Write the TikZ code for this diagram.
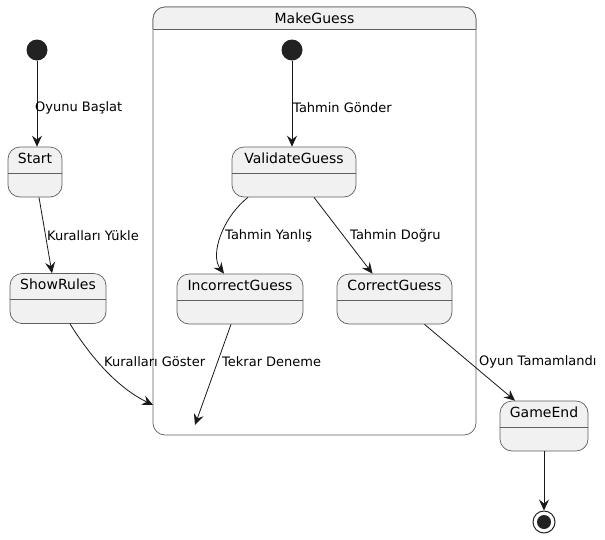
\documentclass[tikz,border=0pt]{standalone}
\usepackage{fontspec}
\setmainfont{DejaVu Sans}
\usetikzlibrary{arrows.meta,calc}
\definecolor{stfill}{HTML}{F1F1F1}
\definecolor{stline}{HTML}{5F5F5F}
\definecolor{ink}{HTML}{181818}
\definecolor{dot}{HTML}{222222}
\tikzset{
  statebox/.style={draw=stline, fill=stfill, rounded corners=12, line width=0.7,
    inner sep=0, minimum height=50,
    path picture={\draw[stline, line width=0.7]
      ([yshift=-26]path picture bounding box.north west) --
      ([yshift=-26]path picture bounding box.north east);}},
  sname/.style={font=\fontsize{14}{16}\selectfont, anchor=north, inner sep=0, yshift=-6},
  initdot/.style={circle, fill=dot, inner sep=0, minimum size=21},
  finaldot/.style={circle, draw=dot, line width=1, fill=white, inner sep=0, minimum size=22,
    path picture={\fill[dot] (path picture bounding box.center) circle (7);}},
  arr/.style={draw=ink, line width=0.8,
    -{Stealth[length=11, width=10, inset=4]}},
  elabel/.style={font=\fontsize{13}{15}\selectfont, anchor=west, inner sep=0, text=black},
}
\begin{document}
\begin{tikzpicture}[x=1pt, y=-1pt]
\useasboundingbox (0,0) rectangle (605,539);

% composite state MakeGuess
\node[draw=stline, line width=0.7, rounded corners=12, inner sep=0,
  minimum width=323, minimum height=428] (mg) at (314.5,221) {};
\begin{scope}
  \clip[rounded corners=12] (153,7) rectangle (476,435);
  \fill[stfill] (153,7) rectangle (476,29);
\end{scope}
\draw[stline, line width=0.7, rounded corners=12] (153,29) -- (153,7) -- (476,7) -- (476,29);
\draw[stline, line width=0.7] (153,29) -- (476,29);
\node[font=\fontsize{14}{16}\selectfont, inner sep=0] (mgname) at (314.5,18) {MakeGuess};

% top-level states
\node[initdot] (init) at (37,50) {};
\node[statebox, minimum width=54, label={[sname]north:Start}] (start) at (35,172) {};
\node[statebox, minimum width=96, label={[sname]north:ShowRules}] (rules) at (58,298.5) {};
\node[statebox, minimum width=88, label={[sname]north:GameEnd}] (gameend) at (544,426) {};
\node[finaldot] (final) at (544,522) {};

% inner states
\node[initdot] (init2) at (292,50) {};
\node[statebox, minimum width=124, label={[sname]north:ValidateGuess}] (validate) at (294,172) {};
\node[statebox, minimum width=126, label={[sname]north:IncorrectGuess}] (incorrect) at (240,299) {};
\node[statebox, minimum width=115, label={[sname]north:CorrectGuess}] (correct) at (394.5,299) {};
\coordinate (mgentry) at (153,405);
\coordinate (retry) at (195,425);

% transitions
\draw[arr] (init) -- (init |- start.north);
\node[elabel] (l1) at (35,108) {Oyunu Başlat};

\draw[arr] ([xshift=4]start.south) -- ([xshift=-6]rules.north);
\node[elabel] (l2) at (47,236) {Kuralları Yükle};

\draw[arr] ([xshift=12]rules.south) .. controls (85,348) and (112,385) .. (mgentry);
\node[elabel] (l3) at (104,362) {Kuralları Göster};

\draw[arr] (init2) -- (init2 |- validate.north);
\node[elabel] (l4) at (293,108) {Tahmin Gönder};

\draw[arr] ([xshift=-46]validate.south) .. controls (222,218) and (210,255) .. ([xshift=-16]incorrect.north);
\node[elabel] (l5) at (225,236) {Tahmin Yanlış};

\draw[arr] ([xshift=20]validate.south) -- ([xshift=-22]correct.north);
\node[elabel] (l6) at (350,236) {Tahmin Doğru};

\draw[arr] ([xshift=-9]incorrect.south) -- (retry);
\node[elabel] (l7) at (222,362) {Tekrar Deneme};

\draw[arr] ([xshift=30]correct.south) -- ([xshift=-29]gameend.north);
\node[elabel] (l8) at (479,362) {Oyun Tamamlandı};

\draw[arr] (gameend.south) -- (final.north);
\end{tikzpicture}
\end{document}
